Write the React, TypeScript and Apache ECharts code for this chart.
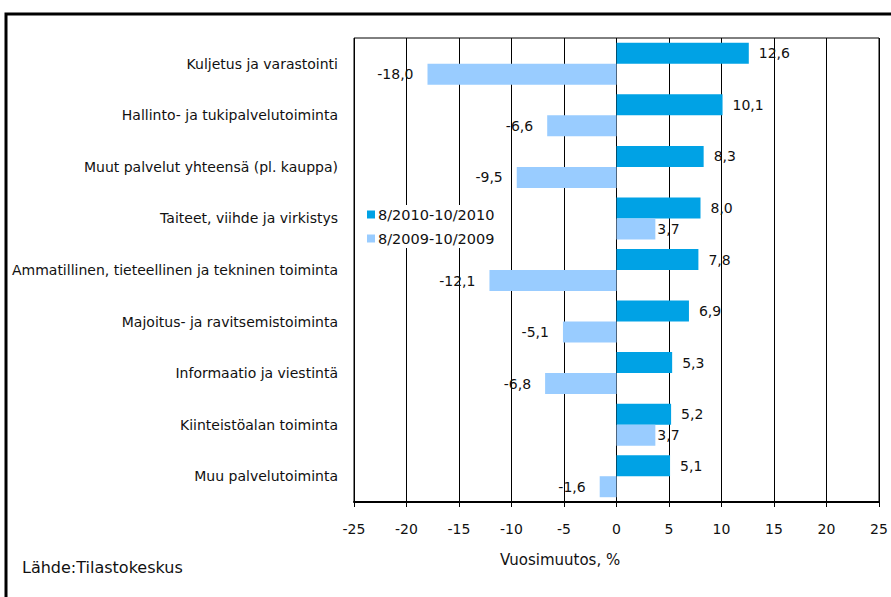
import React, { useEffect, useRef } from "react";
import * as echarts from "echarts";

const categories = [
  "Kuljetus ja varastointi",
  "Hallinto- ja tukipalvelutoiminta",
  "Muut palvelut yhteensä (pl. kauppa)",
  "Taiteet, viihde ja virkistys",
  "Ammatillinen, tieteellinen ja tekninen toiminta",
  "Majoitus- ja ravitsemistoiminta",
  "Informaatio ja viestintä",
  "Kiinteistöalan toiminta",
  "Muu palvelutoiminta",
];
const series2010 = [12.6, 10.1, 8.3, 8.0, 7.8, 6.9, 5.3, 5.2, 5.1];
const series2009 = [-18.0, -6.6, -9.5, 3.7, -12.1, -5.1, -6.8, 3.7, -1.6];
const seriesNames = ["8/2010-10/2010", "8/2009-10/2009"];
const xTicks = { min: -25, max: 25, interval: 5 };
const axisTitle = "Vuosimuutos, %";
const sourceText = "Lähde:Tilastokeskus";

const FONT = "DejaVu Sans";
const fmt = (v: number) => v.toFixed(1).replace(".", ",");

const mkData = (arr: number[], rightDist: number, leftDist: number) =>
  arr.map((v) => ({
    value: v,
    label: {
      position: v < 0 ? "left" : "right",
      distance: v < 0 ? leftDist : rightDist,
    },
  }));

export default function App() {
  const ref = useRef<HTMLDivElement>(null);
  useEffect(() => {
    document.body.style.margin = "0";
    const chart = echarts.init(ref.current!, null, { renderer: "svg" });
    const labelStyle = {
      show: true,
      color: "#111",
      fontFamily: FONT,
      fontSize: 14,
      formatter: (p: any) => fmt(p.value),
    };
    chart.setOption({
      animation: false,
      backgroundColor: "#fff",
      textStyle: { fontFamily: FONT },
      grid: {
        left: 354,
        top: 38,
        width: 525,
        height: 464,
        show: true,
        borderColor: "#000",
        borderWidth: 1,
        backgroundColor: "#fff",
        z: 0,
      },
      legend: {
        orient: "vertical",
        left: 365,
        top: 205,
        itemWidth: 8,
        itemHeight: 8,
        itemGap: 9,
        backgroundColor: "#fff",
        padding: [2, 4, 2, 2],
        icon: "rect",
        textStyle: { fontFamily: FONT, fontSize: 14.5, color: "#111", padding: [0, 0, 0, -2] },
        data: seriesNames,
      },
      xAxis: {
        type: "value",
        min: xTicks.min,
        max: xTicks.max,
        interval: xTicks.interval,
        axisLine: { show: true, onZero: false, lineStyle: { color: "#000", width: 2 } },
        axisTick: { show: true, length: 5, lineStyle: { color: "#000" } },
        splitLine: { show: true, lineStyle: { color: "#000", width: 1 } },
        axisLabel: { color: "#111", fontFamily: FONT, fontSize: 14, margin: 20 },
      },
      yAxis: {
        type: "category",
        data: categories,
        inverse: true,
        axisLine: { show: false },
        axisTick: { show: false },
        splitLine: { show: false },
        axisLabel: { color: "#111", fontFamily: FONT, fontSize: 14, margin: 16 },
      },
      series: [
        {
          name: seriesNames[0],
          type: "bar",
          data: mkData(series2010, 10, 12),
          itemStyle: { color: "#00A2E5" },
          barWidth: 21,
          barGap: "0%",
          label: labelStyle,
        },
        {
          name: seriesNames[1],
          type: "bar",
          data: mkData(series2009, 2, 14),
          itemStyle: { color: "#99CCFF" },
          barWidth: 21,
          barGap: "0%",
          label: labelStyle,
        },
      ],
      graphic: [
        {
          type: "rect",
          shape: { x: 6, y: 14, width: 900, height: 620 },
          style: { fill: "none", stroke: "#000", lineWidth: 3 },
          silent: true,
          z: 100,
        },
        {
          type: "text",
          left: 500,
          top: 552,
          style: { text: axisTitle, font: `15px "${FONT}"`, fill: "#111" },
        },
        {
          type: "text",
          left: 22,
          top: 559,
          style: { text: sourceText, font: `16px "${FONT}"`, fill: "#111" },
        },
      ],
    });
    return () => chart.dispose();
  }, []);
  return (
    <div
      ref={ref}
      style={{ position: "fixed", left: 0, top: 0, width: 891, height: 597 }}
    />
  );
}
